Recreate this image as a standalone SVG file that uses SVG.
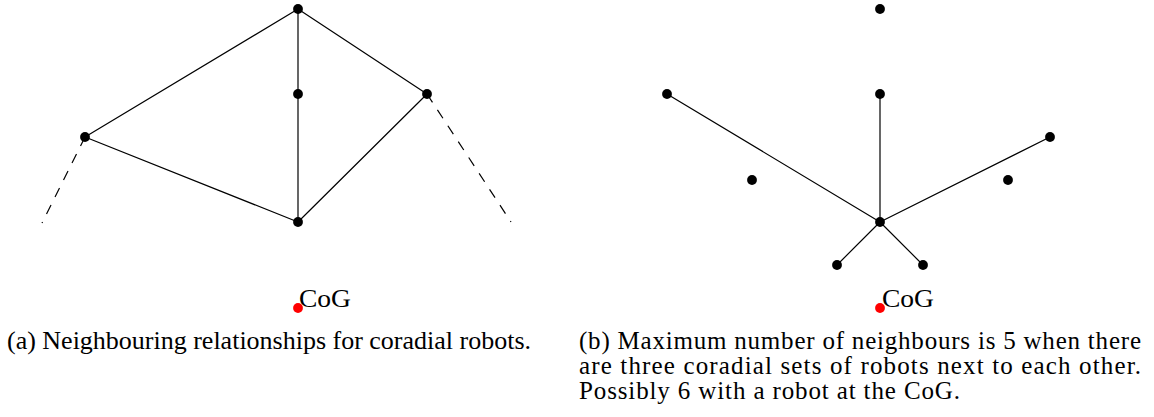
<svg xmlns="http://www.w3.org/2000/svg" width="1154" height="417" viewBox="0 0 1154 417">
<style>
.e{stroke:#000;stroke-width:1.2;fill:none;stroke-linecap:round}
.d{stroke:#000;stroke-width:1.2;fill:none;stroke-dasharray:10 9}
.n{fill:#000}
.cog{fill:#ff0000}
.t{font-family:"Liberation Serif","DejaVu Serif",serif;font-size:25px;fill:#000}
.c{font-family:"Liberation Serif","DejaVu Serif",serif;font-size:26px;fill:#000}
</style>
<rect width="1154" height="417" fill="#fff"/>
<g id="connectors">
<line class="e" x1="298" y1="9" x2="85" y2="137"/>
<line class="e" x1="298" y1="9" x2="427" y2="94"/>
<line class="e" x1="298" y1="9" x2="298" y2="222"/>
<line class="e" x1="85" y1="137" x2="298" y2="222"/>
<line class="e" x1="427" y1="94" x2="298" y2="222"/>
<line class="d" x1="85" y1="137" x2="42" y2="223"/>
<line class="d" x1="427" y1="94" x2="511" y2="222"/>
<line class="e" x1="880" y1="222" x2="667" y2="94"/>
<line class="e" x1="880" y1="222" x2="880" y2="94"/>
<line class="e" x1="880" y1="222" x2="1050" y2="137"/>
<line class="e" x1="880" y1="222" x2="837" y2="265"/>
<line class="e" x1="880" y1="222" x2="923" y2="265"/>
</g>
<g id="a-top"><circle class="n" cx="298" cy="9" r="4.9"/></g>
<g id="a-mid"><circle class="n" cx="298" cy="94" r="4.9"/></g>
<g id="a-right"><circle class="n" cx="427" cy="94" r="4.9"/></g>
<g id="a-left"><circle class="n" cx="85" cy="137" r="4.9"/></g>
<g id="a-bottom"><circle class="n" cx="298" cy="222" r="4.9"/></g>
<g id="a-cog"><circle class="cog" cx="298" cy="308" r="4.9"/><text class="c" x="299" y="307" textLength="52" lengthAdjust="spacingAndGlyphs">CoG</text></g>
<g id="b-top"><circle class="n" cx="880" cy="9" r="4.9"/></g>
<g id="b-mid"><circle class="n" cx="880" cy="94" r="4.9"/></g>
<g id="b-upleft"><circle class="n" cx="667" cy="94" r="4.9"/></g>
<g id="b-right"><circle class="n" cx="1050" cy="137" r="4.9"/></g>
<g id="b-left2"><circle class="n" cx="752" cy="180" r="4.9"/></g>
<g id="b-right2"><circle class="n" cx="1008" cy="180" r="4.9"/></g>
<g id="b-center"><circle class="n" cx="880" cy="222" r="4.9"/></g>
<g id="b-botleft"><circle class="n" cx="837" cy="265" r="4.9"/></g>
<g id="b-botright"><circle class="n" cx="923" cy="265" r="4.9"/></g>
<g id="b-cog"><circle class="cog" cx="880" cy="308" r="4.9"/><text class="c" x="882" y="307" textLength="52" lengthAdjust="spacingAndGlyphs">CoG</text></g>
<g id="captions">
<text class="t" x="7" y="349" textLength="524" lengthAdjust="spacingAndGlyphs">(a) Neighbouring relationships for coradial robots.</text>
<text class="t" x="579" y="349" textLength="562" lengthAdjust="spacing">(b) Maximum number of neighbours is 5 when there</text>
<text class="t" x="579" y="374" textLength="562" lengthAdjust="spacing">are three coradial sets of robots next to each other.</text>
<text class="t" x="579" y="399" textLength="381" lengthAdjust="spacing">Possibly 6 with a robot at the CoG.</text>
</g>
</svg>
